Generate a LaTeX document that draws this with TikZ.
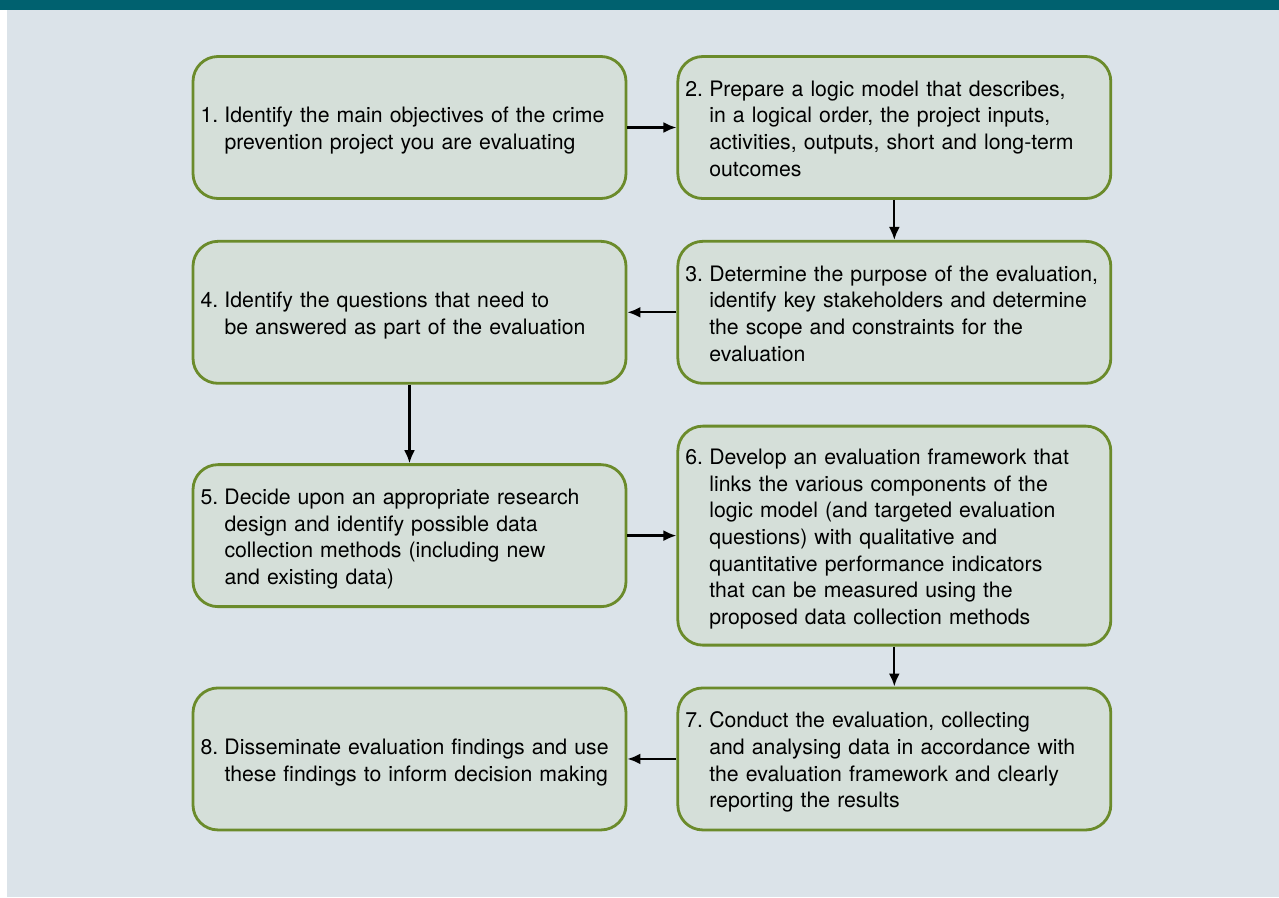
\documentclass[tikz,border=0pt]{standalone}
\usepackage{fontspec}
\setmainfont{TeX Gyre Heros}
\usepackage{tikz}
\usetikzlibrary{arrows.meta,positioning}

\definecolor{barteal}{HTML}{00616F}
\definecolor{panelgrey}{HTML}{DBE3E9}
\definecolor{boxfill}{HTML}{D5DFD9}
\definecolor{boxline}{HTML}{6B8B2B}

% numbered step text, later lines hang under the first word
\newcommand{\steptext}[2]{\raisebox{-0.07cm}[\height][\depth]{%
  \begin{tabular}{@{}l@{}l@{}}\makebox[0.48cm][l]{#1}&#2\end{tabular}}}

\begin{document}
\begin{tikzpicture}[
  font=\fontsize{12.1pt}{15.2pt}\selectfont,
  stepbox/.style={draw=boxline, line width=1.6pt, fill=boxfill, rounded corners=0.5cm,
    text width=8.36cm, inner xsep=0.15cm, inner ysep=0pt, align=left,
    minimum height=2.84cm},
  tallbox/.style={stepbox, minimum height=4.38cm},
  link/.style={->, line width=1.3pt},
  >={Latex[length=2.6mm,width=2.2mm]}
]
\useasboundingbox (0,0) rectangle (25.58,-17.94);
\fill[barteal] (0,0) rectangle (25.58,-0.2);
\fill[panelgrey] (0.14,-0.2) rectangle (25.58,-17.94);

\node[stepbox] (objectives) at (8.19,-2.55)
  {\steptext{1.}{Identify the main objectives of the crime\\ & prevention project you are evaluating}};
\node[stepbox, right=0.98cm of objectives] (logicmodel)
  {\steptext{2.}{Prepare a logic model that describes,\\ & in a logical order, the project inputs,\\ & activities, outputs, short and long-term\\ & outcomes}};
\node[stepbox, below=0.8cm of logicmodel] (purpose)
  {\steptext{3.}{Determine the purpose of the evaluation,\\ & identify key stakeholders and determine\\ & the scope and constraints for the\\ & evaluation}};
\node[stepbox, left=0.98cm of purpose] (questions)
  {\steptext{4.}{Identify the questions that need to\\ & be answered as part of the evaluation}};
\node[tallbox, below=0.8cm of purpose] (framework)
  {\steptext{6.}{Develop an evaluation framework that\\ & links the various components of the\\ & logic model (and targeted evaluation\\ & questions) with qualitative and\\ & quantitative performance indicators\\ & that can be measured using the\\ & proposed data collection methods}};
\node[stepbox, left=0.98cm of framework] (design)
  {\steptext{5.}{Decide upon an appropriate research\\ & design and identify possible data\\ & collection methods (including new\\ & and existing data)}};
\node[stepbox, below=0.8cm of framework] (conduct)
  {\steptext{7.}{Conduct the evaluation, collecting\\ & and analysing data in accordance with\\ & the evaluation framework and clearly\\ & reporting the results}};
\node[stepbox, left=0.98cm of conduct] (disseminate)
  {\steptext{8.}{Disseminate evaluation findings and use\\ & these findings to inform decision making}};

\draw[link] (objectives) -- (logicmodel);
\draw[link] (logicmodel) -- (purpose);
\draw[link] (purpose) -- (questions);
\draw[link] (questions) -- (design);
\draw[link] (design) -- (framework);
\draw[link] (framework) -- (conduct);
\draw[link] (conduct) -- (disseminate);
\end{tikzpicture}
\end{document}
